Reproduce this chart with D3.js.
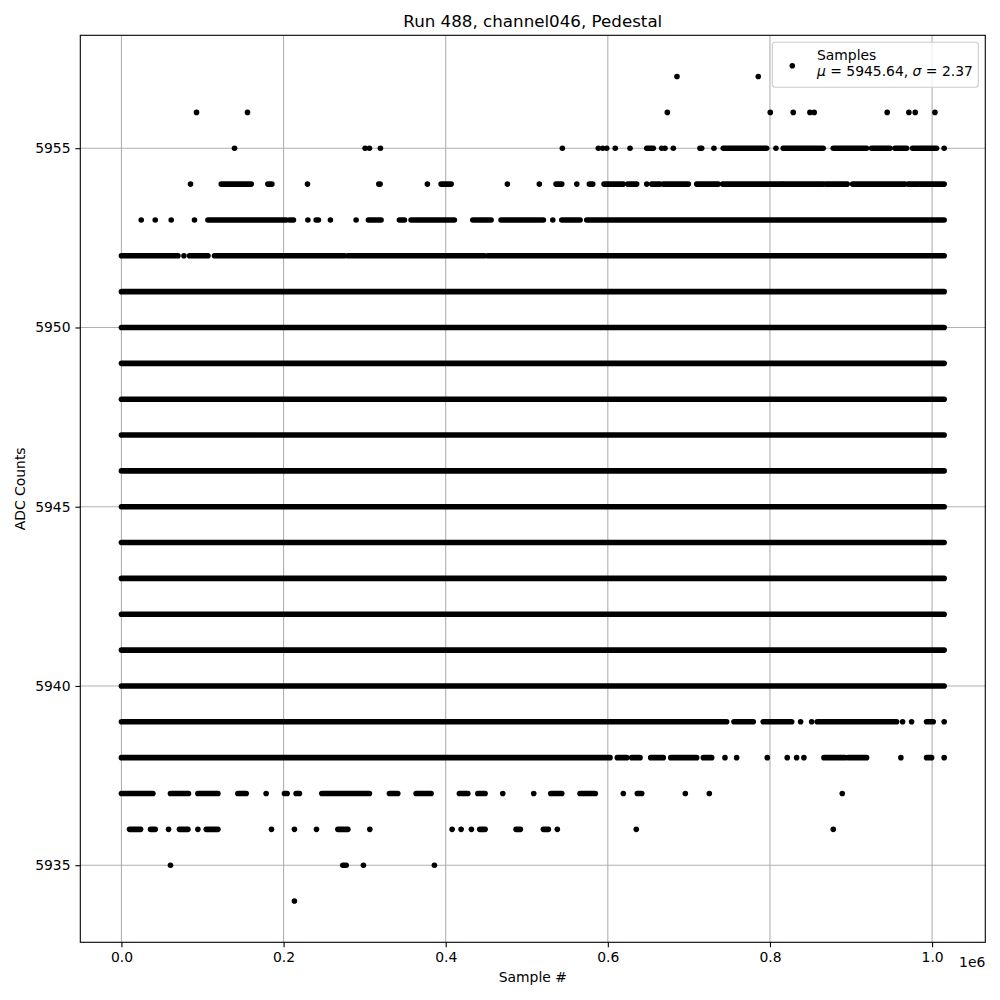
<!DOCTYPE html>
<html><head><meta charset="utf-8">
<script src="https://cdn.jsdelivr.net/npm/d3@7"></script>
<style>body{margin:0;background:#fff}svg{display:block;font-family:"DejaVu Sans",sans-serif}</style>
</head><body><svg id="c" width="1000" height="1000"></svg>
<script>
// ---- data (sample # ranges [start,end] or single samples, per ADC level) ----
const xTicks = [0, 200000, 400000, 600000, 800000, 1000000];
const xTickLabels = ["0.0", "0.2", "0.4", "0.6", "0.8", "1.0"];
const yTicks = [5935, 5940, 5945, 5950, 5955];
const yTickLabels = ["5935", "5940", "5945", "5950", "5955"];
const lastSample = 1014900;
const legendLabel1 = "Samples";
const muValue = "5945.64", sigmaValue = "2.37";

const runs5957 = [685300, 785600];
const runs5956 = [92600, 155500, 673400, 800400, 828700, 849300, 854600, 944600, 971400, 979200, 1003500];
const runs5955 = [139500, 300600, 305900, 319500, 543900, 588300, 593700, 598600, 609200, 627400, [648000, 656100],
  666500, 670500, 680800, [713700, 715800], 730900, [742400, 795900], 807400, [816400, 865700], [878100, 919200],
  [925400, 948000], [954100, 968600], [975900, 1005500], 1014900];
const runs5954 = [85200, [123100, 160100], [180600, 185600], 229500, [317500, 319100], 377400, [394300, 406700],
  476100, 515500, [536100, 543200], 561700, [577200, 581400], [595300, 619100], [624500, 635600], 648000,
  [654100, 664400], [668400, 699300], [709600, 736200], [741700, 814400], [816400, 865700], [869000, 895300],
  [902000, 966500], [970500, 982900], [985800, 1014900]];
const runs5953 = [24400, 41700, 61400, 90100, [106700, 203200], [207300, 212200], 230000, [240200, 243000], 257800,
  289500, [304700, 320300], [342900, 349100], [357300, 410700], [433400, 456000], [468300, 520500], 532100,
  [543200, 565800], [574000, 1014900]];
const runs5952 = [[0, 69700], 77100, [84000, 106700], [114800, 275100], [279300, 447700], [451900, 1014900]];
const runsFull = [[0, 1014900]]; // levels 5940 .. 5951 are sampled continuously
const runs5939 = [[0, 746600], [755600, 779400], [791700, 826800], 837800, 851400, [858300, 956200], 963600, 974700,
  [993200, 1001400], 1014900];
const runs5938 = [[0, 602700], [611700, 623300], [629500, 639700], [652900, 668400], [677600, 709600], [717800, 728100],
  744500, 758900, 796700, 821300, 832900, 841900, [866600, 892500], [896500, 919200], 961500, [993200, 999400], 1014900];
const runs5937 = [[0, 38800], [60500, 82700], [94300, 119000], [143600, 153900], 178500, [201100, 204400],
  [215500, 219600], [247200, 305900], [330600, 340900], [363500, 382000], [416900, 427300], [439600, 448600],
  470400, 508600, [529600, 543200], [565700, 584600], 619100, [636400, 641800], 695600, 725200, 889200];
const runs5936 = [[10000, 23600], [35900, 41700], 58100, [71600, 82000], 94300, [104600, 119000], 185100, 213400,
  240600, [267000, 279300], 306400, 407900, 419000, 431700, [442000, 448600], [486800, 492100], [520500, 526600],
  537700, 635100, 878100];
const runs5935 = [60500, [273100, 277200], 298500, 386100];
const runs5934 = [213400];

// build table
const table = [
  [5957, runs5957], [5956, runs5956], [5955, runs5955], [5954, runs5954], [5953, runs5953], [5952, runs5952],
  [5951, runsFull], [5950, runsFull], [5949, runsFull], [5948, runsFull], [5947, runsFull], [5946, runsFull],
  [5945, runsFull], [5944, runsFull], [5943, runsFull], [5942, runsFull], [5941, runsFull], [5940, runsFull],
  [5939, runs5939], [5938, runs5938], [5937, runs5937], [5936, runs5936], [5935, runs5935], [5934, runs5934]
];
const marks = [];
table.forEach(([lvl, runs]) => runs.forEach(r => {
  const a = Array.isArray(r) ? r[0] : r, b = Array.isArray(r) ? r[1] : r;
  marks.push({lvl, a, b});
}));

// ---- layout ----
const L = 80.3, R = 985.3, T = 35.3, B = 942.3;
const svg = d3.select("#c");
const yMin = d3.min(marks, d => d.lvl), yMax = d3.max(marks, d => d.lvl);
const yPad = (yMax - yMin) * 0.05;
const xPad = lastSample * 0.05;
const x = d3.scaleLinear().domain([-xPad, lastSample + xPad]).range([L, R]);
const y = d3.scaleLinear().domain([yMin - yPad, yMax + yPad]).range([B, T]);

const grid = "#b0b0b0";
const g = svg.append("g");
// grid
g.selectAll(".gx").data(xTicks).join("line").attr("x1", d => x(d)).attr("x2", d => x(d))
  .attr("y1", T).attr("y2", B).attr("stroke", grid).attr("stroke-width", 1.1);
g.selectAll(".gy").data(yTicks).join("line").attr("y1", d => y(d)).attr("y2", d => y(d))
  .attr("x1", L).attr("x2", R).attr("stroke", grid).attr("stroke-width", 1.1);

// points
const r = 2.8;
svg.append("clipPath").attr("id", "cp").append("rect").attr("x", L).attr("y", T).attr("width", R - L).attr("height", B - T);
g.append("g").attr("clip-path", "url(#cp)").selectAll("rect").data(marks).join("rect")
  .attr("x", d => x(d.a) - r).attr("width", d => x(d.b) - x(d.a) + 2 * r)
  .attr("y", d => y(d.lvl) - r).attr("height", 2 * r).attr("rx", r).attr("ry", r).attr("fill", "#000");

// axes
const xa = svg.append("g").attr("transform", `translate(0,${B})`)
  .call(d3.axisBottom(x).tickValues(xTicks).tickFormat((d, i) => xTickLabels[i]).tickSize(4.9).tickPadding(4.9));
const ya = svg.append("g").attr("transform", `translate(${L},0)`)
  .call(d3.axisLeft(y).tickValues(yTicks).tickFormat((d, i) => yTickLabels[i]).tickSize(4.9).tickPadding(4.9));
[xa, ya].forEach(a => {
  a.select(".domain").remove();
  a.selectAll("line").attr("stroke", "#000").attr("stroke-width", 1.1);
  a.selectAll("text").attr("font-size", "13.9px").attr("fill", "#000").attr("font-family", "DejaVu Sans");
});
svg.append("rect").attr("x", L).attr("y", T).attr("width", R - L).attr("height", B - T)
  .attr("fill", "none").attr("stroke", "#000").attr("stroke-width", 1.1);

// texts
svg.append("text").attr("x", (L + R) / 2).attr("y", 27).attr("text-anchor", "middle").attr("font-size", "16.7px").text("Run 488, channel046, Pedestal");
svg.append("text").attr("x", (L + R) / 2).attr("y", 982).attr("text-anchor", "middle").attr("font-size", "13.9px").text("Sample #");
svg.append("text").attr("transform", `translate(25,${(T + B) / 2}) rotate(-90)`).attr("text-anchor", "middle").attr("font-size", "13.9px").text("ADC Counts");
svg.append("text").attr("x", R).attr("y", 967).attr("text-anchor", "end").attr("font-size", "13.9px").text("1e6");

// legend
const lg = svg.append("g");
lg.append("rect").attr("x", 772.3).attr("y", 42.3).attr("width", 206).attr("height", 45).attr("rx", 3)
  .attr("fill", "#fff").attr("fill-opacity", 0.8).attr("stroke", "#cccccc").attr("stroke-width", 1.1);
lg.append("circle").attr("cx", 792.3).attr("cy", 65.7).attr("r", r).attr("fill", "#000");
lg.append("text").attr("x", 817).attr("y", 59.5).attr("font-size", "13.9px").text(legendLabel1);
const t2 = lg.append("text").attr("x", 817).attr("y", 76).attr("font-size", "13.9px");
t2.append("tspan").attr("font-style", "italic").text("μ");
t2.append("tspan").text(` = ${muValue}, `);
t2.append("tspan").attr("font-style", "italic").text("σ");
t2.append("tspan").text(` = ${sigmaValue}`);
</script></body></html>
